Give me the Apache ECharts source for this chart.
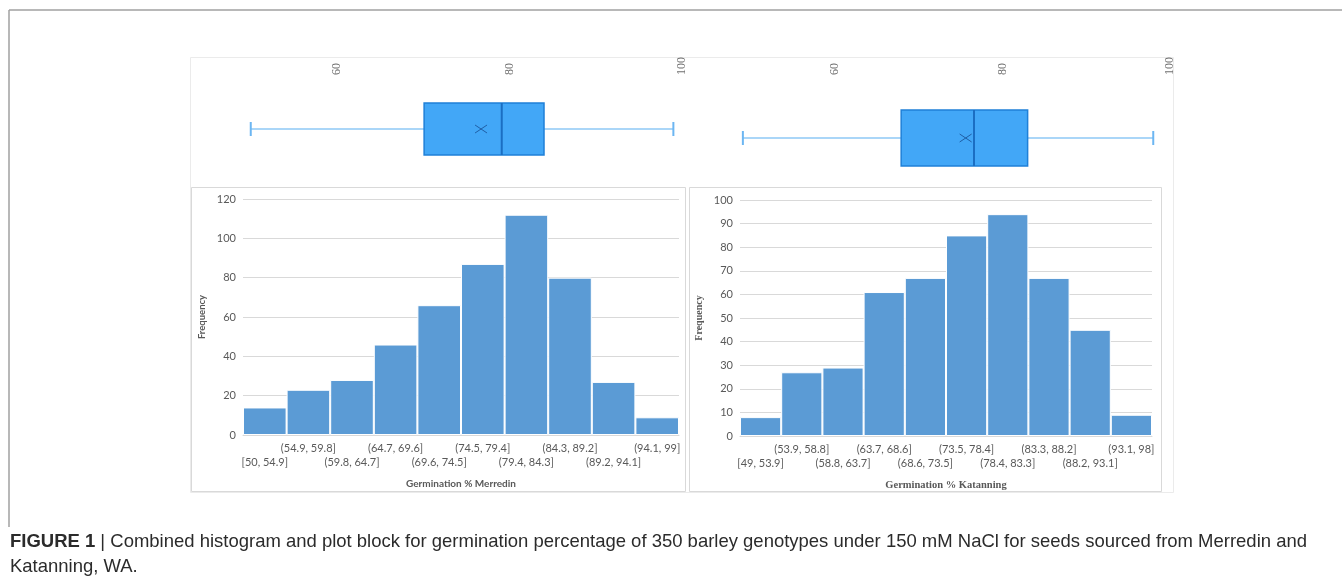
<!DOCTYPE html>
<html>
<head>
<meta charset="utf-8">
<script src="https://cdn.jsdelivr.net/npm/echarts@6/dist/echarts.min.js"></script>
<style>
html,body{margin:0;padding:0;background:#fff;}
#chart{width:1342px;height:581px;}
</style>
</head>
<body>
<div id="chart"></div>
<script>
// ---- data ----
const boxTicks = [60, 80, 100];
const merredinBox = [50, 70.1, 79.1, 84.0, 99];   // min, Q1, median, Q3, max
const merredinMean = 76.7;
const katanningBox = [49, 67.9, 76.6, 83.0, 98];
const katanningMean = 75.6;

const merredinBins = ['[50, 54.9]', '(54.9, 59.8]', '(59.8, 64.7]', '(64.7, 69.6]', '(69.6, 74.5]', '(74.5, 79.4]', '(79.4, 84.3]', '(84.3, 89.2]', '(89.2, 94.1]', '(94.1, 99]'];
const merredinFreq = [14, 23, 28, 46, 66, 87, 112, 80, 27, 9];
const katanningBins = ['[49, 53.9]', '(53.9, 58.8]', '(58.8, 63.7]', '(63.7, 68.6]', '(68.6, 73.5]', '(73.5, 78.4]', '(78.4, 83.3]', '(83.3, 88.2]', '(88.2, 93.1]', '(93.1, 98]'];
const katanningFreq = [8, 27, 29, 61, 67, 85, 94, 67, 45, 9];

const captionBold = 'FIGURE 1';
const captionLine1 = ' | Combined histogram and plot block for germination percentage of 350 barley genotypes under 150 mM NaCl for seeds sourced from Merredin and';
const captionLine2 = 'Katanning, WA.';

// ---- chart ----
const chart = echarts.init(document.getElementById('chart'), null, {renderer: 'canvas'});

function boxRender(boxFrac) {
  return function (params, api) {
    const y = api.coord([api.value(1), 0])[1];
    const band = api.size([0, 1])[1];
    const h = band * boxFrac;
    const pMin = api.coord([api.value(1), 0])[0];
    const pQ1 = api.coord([api.value(2), 0])[0];
    const pMed = api.coord([api.value(3), 0])[0];
    const pQ3 = api.coord([api.value(4), 0])[0];
    const pMax = api.coord([api.value(5), 0])[0];
    const pMean = api.coord([api.value(6), 0])[0];
    const wStyle = {stroke: '#8ec8f6', lineWidth: 1.5};
    const capStyle = {stroke: '#6cb6f2', lineWidth: 2};
    return {
      type: 'group',
      children: [
        {type: 'line', shape: {x1: pMin, y1: y, x2: pQ1, y2: y}, style: wStyle},
        {type: 'line', shape: {x1: pQ3, y1: y, x2: pMax, y2: y}, style: wStyle},
        {type: 'line', shape: {x1: pMin, y1: y - 7, x2: pMin, y2: y + 7}, style: capStyle},
        {type: 'line', shape: {x1: pMax, y1: y - 7, x2: pMax, y2: y + 7}, style: capStyle},
        {type: 'rect', shape: {x: pQ1, y: y - h / 2, width: pQ3 - pQ1, height: h},
          style: {fill: '#42a7f7', stroke: '#1f80d8', lineWidth: 1.5}},
        {type: 'line', shape: {x1: pMed, y1: y - h / 2, x2: pMed, y2: y + h / 2},
          style: {stroke: '#1b6ec2', lineWidth: 2}},
        {type: 'line', shape: {x1: pMean - 6, y1: y - 4, x2: pMean + 6, y2: y + 4},
          style: {stroke: '#1f5fa6', lineWidth: 1}},
        {type: 'line', shape: {x1: pMean - 6, y1: y + 4, x2: pMean + 6, y2: y - 4},
          style: {stroke: '#1f5fa6', lineWidth: 1}}
      ]
    };
  };
}

function topAxis(gridIndex) {
  return {
    type: 'value', gridIndex: gridIndex, position: 'top',
    min: 40, max: 100, interval: 20,
    axisLine: {show: false}, axisTick: {show: false}, splitLine: {show: false},
    axisLabel: {
      rotate: -90, margin: 7, color: '#6f6f6f', fontSize: 12,
      fontFamily: 'Liberation Serif',
      formatter: function (v) { return boxTicks.indexOf(v) >= 0 ? String(v) : ''; }
    }
  };
}

function histX(gridIndex, bins, fontFamily, name, nameFont, nameSize) {
  return {
    type: 'category', gridIndex: gridIndex, data: bins,
    axisLine: {show: true, lineStyle: {color: '#d9d9d9'}},
    axisTick: {show: false},
    axisLabel: {
      interval: 0, color: '#595959', fontSize: 11, fontFamily: fontFamily, margin: 6, lineHeight: 14,
      formatter: function (v, i) { return i % 2 === 0 ? '\n' + v : v; }
    },
    name: name, nameLocation: 'middle', nameGap: 44,
    nameTextStyle: {color: '#595959', fontWeight: 'bold', fontSize: nameSize, fontFamily: nameFont}
  };
}

function histY(gridIndex, max, interval, nameFont, nameSize) {
  return {
    type: 'value', gridIndex: gridIndex, min: 0, max: max, interval: interval,
    axisLine: {show: false}, axisTick: {show: false},
    splitLine: {lineStyle: {color: '#d9d9d9', width: 1}},
    axisLabel: {color: '#595959', fontSize: 11, fontFamily: 'Lato', margin: 7},
    name: 'Frequency', nameLocation: 'middle', nameGap: 36, nameRotate: 90,
    nameTextStyle: {color: '#595959', fontWeight: 'bold', fontSize: nameSize, fontFamily: nameFont}
  };
}

// caption width fitting
const capFont = '"Liberation Sans Narrow", "Liberation Sans", Arial, sans-serif';
const capSize = 18.5;
const mc = document.createElement('canvas').getContext('2d');
mc.font = 'bold ' + capSize + 'px ' + capFont;
const wBold = mc.measureText(captionBold).width;
mc.font = capSize + 'px ' + capFont;
const wReg = mc.measureText(captionLine1).width;
const capScale = 1297 / (wBold + wReg);

const option = {
  backgroundColor: '#fff',
  animation: false,
  grid: [
    {left: 164.5, width: 517.5, top: 82, height: 94},
    {left: 667.5, width: 502.5, top: 82, height: 112},
    {left: 243, width: 436, top: 199, height: 236},
    {left: 740, width: 412, top: 200, height: 236}
  ],
  xAxis: [
    topAxis(0),
    topAxis(1),
    histX(2, merredinBins, 'Lato', 'Germination % Merredin', 'Lato', 10),
    histX(3, katanningBins, 'Lato', 'Germination % Katanning', 'Liberation Serif', 10.5)
  ],
  yAxis: [
    {type: 'category', gridIndex: 0, data: [''], show: false},
    {type: 'category', gridIndex: 1, data: [''], show: false},
    histY(2, 120, 20, 'Lato', 9.5),
    histY(3, 100, 10, 'Liberation Serif', 10)
  ],
  series: [
    {type: 'custom', xAxisIndex: 0, yAxisIndex: 0, renderItem: boxRender(0.553),
      data: [[0].concat(merredinBox, [merredinMean])], encode: {x: [1, 2, 3, 4, 5, 6], y: 0}},
    {type: 'custom', xAxisIndex: 1, yAxisIndex: 1, renderItem: boxRender(0.5),
      data: [[0].concat(katanningBox, [katanningMean])], encode: {x: [1, 2, 3, 4, 5, 6], y: 0}},
    {type: 'bar', xAxisIndex: 2, yAxisIndex: 2, data: merredinFreq, barCategoryGap: '0%',
      itemStyle: {color: '#5b9bd5', borderColor: '#ffffff', borderWidth: 1}},
    {type: 'bar', xAxisIndex: 3, yAxisIndex: 3, data: katanningFreq, barCategoryGap: '0%',
      itemStyle: {color: '#5b9bd5', borderColor: '#ffffff', borderWidth: 1}}
  ],
  graphic: [
    {type: 'line', z: -1, shape: {x1: 9, y1: 10, x2: 1342, y2: 10}, style: {stroke: '#a0a0a0', lineWidth: 1.5}},
    {type: 'line', z: -1, shape: {x1: 9, y1: 10, x2: 9, y2: 527}, style: {stroke: '#a0a0a0', lineWidth: 1.5}},
    {type: 'rect', z: -1, shape: {x: 190.5, y: 57.5, width: 983, height: 435}, style: {fill: 'none', stroke: '#ebebeb', lineWidth: 1}},
    {type: 'rect', z: -1, shape: {x: 191.5, y: 187.5, width: 494, height: 304}, style: {fill: 'none', stroke: '#d9d9d9', lineWidth: 1}},
    {type: 'rect', z: -1, shape: {x: 689.5, y: 187.5, width: 472, height: 304}, style: {fill: 'none', stroke: '#d9d9d9', lineWidth: 1}},
    {type: 'text', x: 10, y: 532, scaleX: capScale, originX: 0,
      style: {text: '{b|' + captionBold + '}' + captionLine1, fill: '#2b2b2b', font: capSize + 'px ' + capFont,
        rich: {b: {fontWeight: 'bold', fontSize: capSize, fontFamily: capFont, fill: '#2b2b2b'}}}},
    {type: 'text', x: 10, y: 557, scaleX: capScale, originX: 0,
      style: {text: captionLine2, fill: '#2b2b2b', font: capSize + 'px ' + capFont}}
  ]
};
chart.setOption(option);
</script>
</body>
</html>
